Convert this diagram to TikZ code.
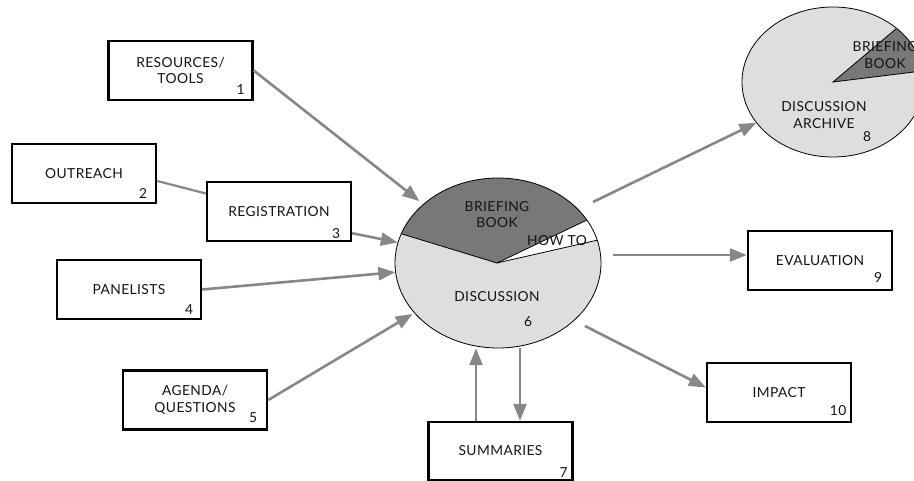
\documentclass[tikz,border=0pt]{standalone}
\usepackage{fontspec}
\setmainfont{Lato}[LetterSpace=3.0]
\usetikzlibrary{shapes.geometric,arrows.meta}

\definecolor{lightfill}{gray}{0.87}
\definecolor{darkfill}{gray}{0.47}
\definecolor{arrowgray}{gray}{0.53}
\definecolor{inkgray}{gray}{0.08}
\newcommand{\lbl}{\fontsize{13.8}{16.5}\selectfont\color{inkgray}}

\begin{document}
\begin{tikzpicture}[x=1pt,y=-1pt,
  stagebox/.style={draw=black, line width=2.4pt, fill=white,
    minimum width=144pt, minimum height=59pt, inner sep=0pt,
    align=center, font=\lbl},
  tagnum/.style={inner sep=0pt, font=\lbl},
  pietext/.style={inner sep=0pt, align=center, font=\lbl},
  flow/.style={draw=arrowgray, line width=2.6pt,
    -{Triangle[length=17pt,width=13pt]}},
  plainlink/.style={draw=arrowgray, line width=2.2pt},
  rim/.style={draw=black, line width=0.8pt},
]
\useasboundingbox (0,0) rectangle (914,481);
\clip (0,0) rectangle (914,481);

% ---- process boxes
\node[stagebox] (res) at (180.5,70.5) {RESOURCES/\\TOOLS};
\node[tagnum] (resn) at ([shift={(-13,-12)}]res.south east) {1};
\node[stagebox] (out) at (84,173.5) {OUTREACH};
\node[tagnum] (outn) at ([shift={(-14,-11)}]out.south east) {2};
\node[stagebox] (reg) at (279,211.5) {REGISTRATION};
\node[tagnum] (regn) at ([shift={(-16,-9)}]reg.south east) {3};
\node[stagebox] (pan) at (129,289.5) {PANELISTS};
\node[tagnum] (pann) at ([shift={(-13,-11)}]pan.south east) {4};
\node[stagebox] (age) at (195,400) {AGENDA/\\QUESTIONS};
\node[tagnum] (agen) at ([shift={(-15,-13)}]age.south east) {5};
\node[stagebox, minimum height=58pt] (sum) at (500.5,451) {SUMMARIES};
\node[tagnum] (sumn) at ([shift={(-10,-9)}]sum.south east) {7};
\node[stagebox] (eva) at (820,260.5) {EVALUATION};
\node[tagnum] (evan) at ([shift={(-15,-14)}]eva.south east) {9};
\node[stagebox] (imp) at (779,392.5) {IMPACT};
\node[tagnum] (impn) at ([shift={(-14,-13)}]imp.south east) {10};

% ---- discussion pie
\node[ellipse, minimum width=206pt, minimum height=170pt, inner sep=0pt] (disc) at (498,263) {};
\begin{scope}
  \clip (498,263) ellipse [x radius=103, y radius=85];
  \fill[lightfill] (390,170) rectangle (610,360);
  \fill[darkfill] (497,263) -- (212,176) -- (212,0) -- (800,0) -- (767,134) -- cycle;
  \fill[white] (497,263) -- (767,134) -- (800,194) -- cycle;
  \draw[rim] (212,176) -- (497,263) -- (767,134);
  \draw[rim] (497,263) -- (800,194);
\end{scope}
\draw[rim] (498,263) ellipse [x radius=103, y radius=85];
\node[pietext] (discbb) at (497,214.5) {BRIEFING\\BOOK};
\node[pietext] (dischow) at (557,241) {HOW TO};
\node[pietext] (disct) at (497,297) {DISCUSSION};
\node[tagnum] (discn) at (528,322) {6};

% ---- archive pie
\node[ellipse, minimum width=182pt, minimum height=150pt, inner sep=0pt] (arch) at (833,82) {};
\begin{scope}
  \clip (833,82) ellipse [x radius=91, y radius=75];
  \fill[lightfill] (740,5) rectangle (930,160);
  \fill[darkfill] (833,82) -- (1025,-80) -- (1076,52) -- cycle;
  \draw[rim] (1025,-80) -- (833,82) -- (1076,52);
\end{scope}
\draw[rim] (833,82) ellipse [x radius=91, y radius=75];
\node[pietext] (archbb) at (885,55) {BRIEFING\\BOOK};
\node[pietext] (archt) at (824,115) {DISCUSSION\\ARCHIVE};
\node[tagnum] (archn) at (867,137) {8};

% ---- connectors
\coordinate (upfoot) at ([xshift=-24.5pt]sum.north);
\coordinate (downfoot) at ([xshift=19.5pt]sum.north);
\coordinate (archout) at (593,202);
\coordinate (evout) at (613,255);
\coordinate (imout) at (585,326);

\draw[flow, shorten >=5pt] (res.east) -- (disc);
\draw[plainlink] ([yshift=-7.5pt]out.east) -- ([yshift=18pt]reg.west);
\draw[flow] ([yshift=9pt]reg.south east) -- (disc);
\draw[flow] (pan.east) -- (disc);
\draw[flow, shorten >=2pt] (age.east) -- (disc);
\draw[flow] (upfoot) -- (upfoot |- disc.south);
\draw[flow] (downfoot |- disc.south) -- (downfoot);
\draw[flow] (archout) -- (arch.208);
\draw[flow] (evout) -- (evout -| eva.west);
\draw[flow] (imout) -- ([yshift=5pt]imp.west);
\end{tikzpicture}
\end{document}
